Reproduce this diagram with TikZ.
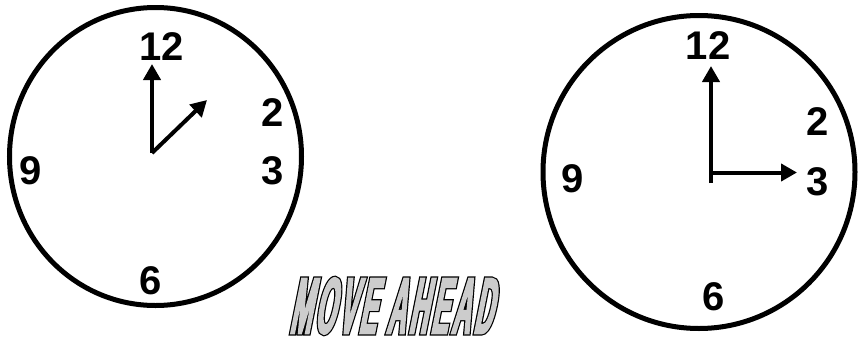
\documentclass[tikz,border=0pt]{standalone}
\usepackage{fontspec}
\setmainfont{Liberation Sans}
\newfontfamily\bannerfont[FakeStretch=0.32,FakeSlant=0.2,FakeBold=5,LetterSpace=4.5]{Liberation Sans}
\newfontfamily\bannerfillfont[FakeStretch=0.32,FakeSlant=0.2,FakeBold=2,LetterSpace=4.5]{Liberation Sans}
\usetikzlibrary{arrows.meta}

\definecolor{bannerGray}{rgb}{0.8,0.8,0.8}

\begin{document}
\begin{tikzpicture}[
        x=1pt, y=-1pt,
        clockRim/.style={black, line width=5pt},
        clockHand/.style={black, line width=4pt, -{Triangle[length=16pt,width=17pt]}},
        dialNum/.style={inner sep=0pt, font=\fontsize{40}{40}\selectfont\bfseries},
        bannerText/.style={inner sep=0pt, anchor=base west, font=\fontsize{80}{80}\selectfont}
    ]
        \useasboundingbox (0,0) rectangle (860,343);

        % Left clock: minute hand on 12, hour hand between 1 and 2
        \draw[clockRim] (155.5,156.5) ellipse [x radius=146, y radius=149];
        \coordinate (lCtr) at (152,153);
        \coordinate (lMin) at (152,64);
        \coordinate (lHour) at (207,100);
        \draw[clockHand] (lCtr) -- (lMin);
        \draw[clockHand] (lCtr) -- (lHour);

        \node[dialNum] (lTwelve) at (161.5,47) {12};
        \node[dialNum] (lTwo) at (272.5,113) {2};
        \node[dialNum] (lThree) at (272.5,171) {3};
        \node[dialNum] (lNine) at (31,171) {9};
        \node[dialNum] (lSix) at (151,281) {6};

        % Right clock: hands on 12 and 3
        \draw[clockRim] (699,172) ellipse [x radius=156, y radius=156.5];
        \coordinate (rBase) at (711,183);
        \coordinate (rCtr) at (709,172.5);
        \coordinate (rMin) at (711,66);
        \coordinate (rHour) at (797,172.5);
        \draw[clockHand] (rBase) -- (rMin);
        \draw[clockHand] (rCtr) -- (rHour);

        \node[dialNum] (rTwelve) at (708,46) {12};
        \node[dialNum] (rTwo) at (817.5,122) {2};
        \node[dialNum] (rThree) at (817.5,182) {3};
        \node[dialNum] (rNine) at (573,178.5) {9};
        \node[dialNum] (rSix) at (714,297) {6};

        % Outlined banner: thick black letters, grey letters on top
        \coordinate (bannerBase) at (289,333.5);
        \node[bannerText, black] (banner) at (bannerBase) {\bannerfont\bfseries MOVE AHEAD};
        \node[bannerText, bannerGray] (bannerFill) at (bannerBase) {\bannerfillfont\bfseries MOVE AHEAD};

    \end{tikzpicture}
\end{document}
